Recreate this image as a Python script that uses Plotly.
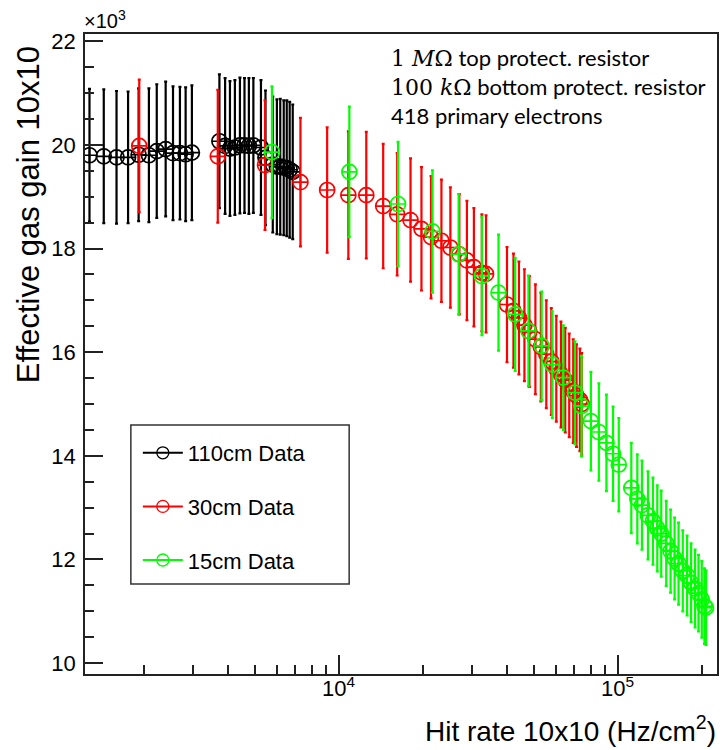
import plotly.graph_objects as go

# ---------------- data (gain in units of 10^3) ----------------
black_x = [1280, 1440, 1600, 1760, 1920, 2090, 2230, 2400, 2550, 2700, 2830, 2980,
           3740, 3920, 4080, 4250, 4430, 4600, 4770, 4950, 5270, 5470, 5810, 6010,
           6180, 6360, 6520, 6680, 6850]
black_y = [19.80, 19.78, 19.76, 19.76, 19.81, 19.80, 19.88, 19.92, 19.84, 19.84, 19.82, 19.85,
           20.07, 19.98, 19.93, 19.95, 19.99, 19.99, 19.98, 19.99, 19.95, 19.75, 19.62, 19.58,
           19.58, 19.56, 19.55, 19.52, 19.48]
black_err = [1.28, 1.29, 1.28, 1.27, 1.28, 1.29, 1.29, 1.30, 1.29, 1.28, 1.29, 1.30,
             1.29, 1.31, 1.30, 1.30, 1.31, 1.30, 1.31, 1.30, 1.30, 1.30, 1.31, 1.30,
             1.31, 1.30, 1.31, 1.31, 1.30]

red_x = [1930, 3690, 5450, 7300, 9100, 10840, 12570, 14450, 16220, 18110,
         19820, 21450, 23370, 25160, 27090, 28840, 30550, 32630, 33770,
         40150, 42350, 44300, 46360, 48300, 50750, 53090, 55540, 57880, 60310,
         62680, 64940, 67110, 69360, 71270, 73280, 74380]
red_y = [19.98, 19.78, 19.61, 19.28, 19.13, 19.03, 19.03, 18.82, 18.66, 18.55,
         18.38, 18.22, 18.15, 18.02, 17.89, 17.77, 17.64, 17.53, 17.51,
         16.92, 16.80, 16.66, 16.52, 16.40, 16.25, 16.10, 15.96, 15.82, 15.68,
         15.57, 15.46, 15.36, 15.25, 15.16, 15.08, 15.00]
red_err = [1.28, 1.28, 1.25, 1.24, 1.21, 1.23, 1.22, 1.20, 1.18, 1.19,
           1.19, 1.18, 1.18, 1.16, 1.16, 1.15, 1.14, 1.13, 1.13,
           1.11, 1.10, 1.09, 1.08, 1.07, 1.06, 1.05, 1.04, 1.03, 1.02,
           1.02, 1.01, 1.00, 1.00, 0.99, 0.99, 0.98]

green_x = [5770, 10930, 16340, 21700, 26940, 32630, 37430, 42950, 47920, 53460,
           58370, 63890, 70340, 74260, 80240, 85680, 91200, 96360, 101000,
           112000, 117700, 122300, 128500, 133900, 138800, 143400, 149400, 154900,
           160100, 165400, 171300, 177500, 183500, 189600, 195000, 200400, 204900, 207600]
green_y = [19.86, 19.48, 18.86, 18.33, 17.89, 17.47, 17.15, 16.73, 16.41, 16.12,
           15.76, 15.51, 15.22, 14.96, 14.67, 14.46, 14.25, 14.04, 13.83,
           13.38, 13.17, 13.05, 12.85, 12.74, 12.60, 12.50, 12.31, 12.16,
           12.02, 11.92, 11.78, 11.69, 11.55, 11.44, 11.35, 11.23, 11.10, 11.07]
green_err = [1.27, 1.26, 1.20, 1.18, 1.16, 1.14, 1.12, 1.09, 1.07, 1.05,
             1.03, 1.01, 0.99, 0.97, 0.95, 0.94, 0.93, 0.91, 0.90,
             0.87, 0.86, 0.86, 0.85, 0.84, 0.83, 0.83, 0.82, 0.80,
             0.79, 0.79, 0.78, 0.77, 0.76, 0.75, 0.74, 0.74, 0.73, 0.72]

series_names = ["110cm Data", "30cm Data", "15cm Data"]
series_colors = ["#000000", "#ff0000", "#00ff00"]

x_major_vals = [1e4, 1e5]
x_major_text = ["10<sup>4</sup>", "10<sup>5</sup>"]
x_minor_vals = [2000, 3000, 4000, 5000, 6000, 7000, 8000, 9000,
                20000, 30000, 40000, 50000, 60000, 70000, 80000, 90000, 200000]
y_major_vals = [10, 12, 14, 16, 18, 20, 22]
y_major_text = ["10", "12", "14", "16", "18", "20", "22"]

annot_lines = [
    "<span style='font-family:DejaVu Serif'>1 <i>M</i>Ω</span> top protect. resistor",
    "<span style='font-family:DejaVu Serif'>100 <i>k</i>Ω</span> bottom protect. resistor",
    "418 primary electrons",
]

# ---------------- figure ----------------
W, H = 722, 750
ML, MR, MT, MB = 85, 3, 34, 76
PW, PH = W - ML - MR, H - MT - MB

def px2paper(x, y):
    return (x - ML) / PW, (H - MB - y) / PH

FONT = "Liberation Sans, Arial, sans-serif"

fig = go.Figure()
datasets = [(black_x, black_y, black_err), (red_x, red_y, red_err), (green_x, green_y, green_err)]
for (xs, ys, es), name, col in zip(datasets, series_names, series_colors):
    fig.add_trace(go.Scatter(
        x=xs, y=ys, mode="markers", name=name, showlegend=False,
        marker=dict(symbol="circle-cross-open", size=15, color=col,
                    line=dict(width=1.7, color=col)),
        error_y=dict(type="data", array=es, visible=True, color=col,
                     thickness=2.2, width=1.5),
    ))

# legend entries (line + open circle, like ROOT "lep")
for i, (name, col) in enumerate(zip(series_names, series_colors)):
    fig.add_trace(go.Scatter(
        x=[None], y=[None], mode="lines+markers", name=name, legendgroup=f"g{i}",
        line=dict(color=col, width=2),
        marker=dict(symbol="circle-open", size=12, color=col, line=dict(width=1.3, color=col)),
    ))

axis_common = dict(showline=True, linecolor="#222", linewidth=1.6, mirror=True,
                   ticks="inside", tickcolor="#222", tickwidth=1.6,
                   showgrid=False, zeroline=False,
                   tickfont=dict(family=FONT, size=22, color="black"))

fig.update_xaxes(type="log", range=[3.0911, 5.3564],
                 tickmode="array", tickvals=x_major_vals, ticktext=x_major_text,
                 ticklen=19, ticklabelstandoff=-6,
                 minor=dict(tickmode="array", tickvals=x_minor_vals, ticks="inside",
                            ticklen=9, tickwidth=1.6, tickcolor="#222", showgrid=False),
                 **axis_common)
fig.update_yaxes(range=[9.79, 22.14],
                 tickmode="array", tickvals=y_major_vals, ticktext=y_major_text,
                 ticklen=18, ticklabelstandoff=3,
                 minor=dict(tick0=10, dtick=0.5, ticks="inside",
                            ticklen=9, tickwidth=1.6, tickcolor="#222", showgrid=False),
                 **axis_common)

annotations = []
# y title
xp, yp = px2paper(28, 215)
annotations.append(dict(x=xp, y=yp, xref="paper", yref="paper", text="Effective gas gain 10x10",
                        textangle=-90, showarrow=False, xanchor="center", yanchor="middle",
                        font=dict(family=FONT, size=31, color="black")))
# x title
xp, yp = px2paper(720, 729)
annotations.append(dict(x=xp, y=yp, xref="paper", yref="paper",
                        text="Hit rate 10x10 (Hz/cm<sup>2</sup>)",
                        showarrow=False, xanchor="right", yanchor="middle",
                        font=dict(family=FONT, size=28, color="black")))
# x10^3
xp, yp = px2paper(82, 20)
annotations.append(dict(x=xp, y=yp, xref="paper", yref="paper", text="×10<sup>3</sup>",
                        showarrow=False, xanchor="left", yanchor="middle",
                        font=dict(family=FONT, size=20, color="black")))
# info text
for txt, ycen in zip(annot_lines, [58, 87, 115]):
    xp, yp = px2paper(390, ycen)
    annotations.append(dict(x=xp, y=yp, xref="paper", yref="paper", text=txt,
                            showarrow=False, xanchor="left", yanchor="middle",
                            font=dict(family="Lato, Open Sans, sans-serif", size=22, color="black")))

# legend frame
x0, y0 = px2paper(131, 584)
x1, y1 = px2paper(350, 425)
shapes = [dict(type="rect", xref="paper", yref="paper", x0=x0, y0=y0, x1=x1, y1=y1,
               line=dict(color="#333", width=1.5), fillcolor="white", layer="above")]

lx, ly = px2paper(138, 432)
fig.update_layout(
    width=W, height=H,
    margin=dict(l=ML, r=MR, t=MT, b=MB, pad=0),
    paper_bgcolor="white", plot_bgcolor="white",
    annotations=annotations, shapes=shapes,
    showlegend=True,
    legend=dict(x=lx, y=ly, xanchor="left", yanchor="top", bgcolor="rgba(0,0,0,0)",
                borderwidth=0, traceorder="grouped", tracegroupgap=22,
                font=dict(family=FONT, size=22, color="black"), itemwidth=40),
)

fig.write_html("out.html")
